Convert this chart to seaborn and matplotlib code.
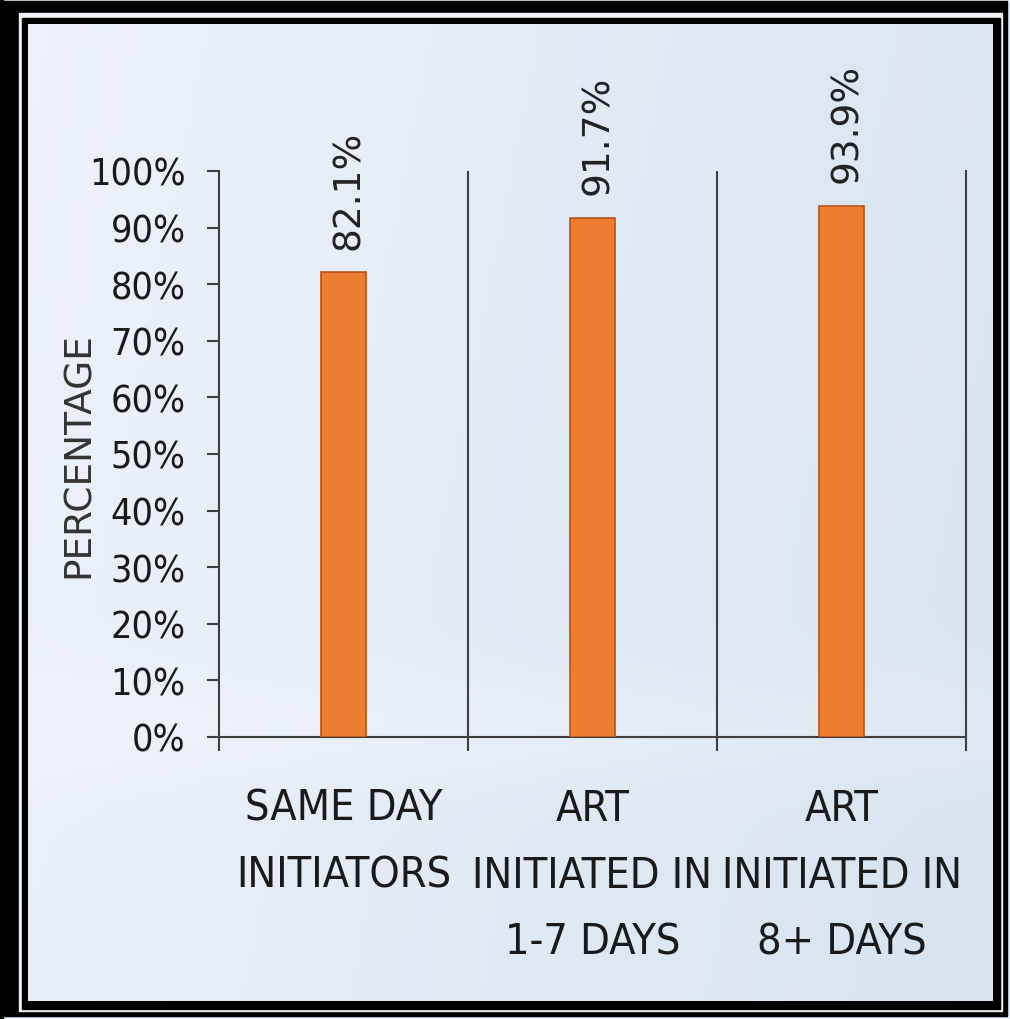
import numpy as np
import matplotlib
matplotlib.use("Agg")
import matplotlib.pyplot as plt
from matplotlib import font_manager as fm
from matplotlib.patches import Rectangle
from matplotlib.ticker import FuncFormatter
import seaborn as sns

# data
categories = ["SAME DAY\nINITIATORS", "ART\nINITIATED IN\n1-7 DAYS", "ART\nINITIATED IN\n8+ DAYS"]
values = [82.1, 91.7, 93.9]
value_labels = ["82.1%", "91.7%", "93.9%"]
yticks = [0, 10, 20, 30, 40, 50, 60, 70, 80, 90, 100]


def pick_narrow_font():
    # look for any installed narrow / condensed regular face
    best = None
    for f in fm.fontManager.ttflist:
        name = f.name.lower()
        is_narrow = ("narrow" in name or "condensed" in name
                     or f.stretch in ("condensed", "semi-condensed", 400, 500))
        if not is_narrow or f.style != "normal" or f.weight not in (400, "normal", "regular"):
            continue
        score = 0 if "liberation" in name else (1 if "noto sans" in name else 2)
        if best is None or score < best[0]:
            best = (score, f.fname)
    if best:
        return fm.FontProperties(fname=best[1])
    return fm.FontProperties(family="Lato")


narrow = pick_narrow_font()
axis_col = "#3f3f3f"
bar_col = "#ed7d31"

W, H = 1010, 1020
fig = plt.figure(figsize=(W / 100, H / 100), dpi=100)

# slide background with double black frame (pixel coordinates)
bg = fig.add_axes([0, 0, 1, 1])
bg.set_xlim(0, W)
bg.set_ylim(H, 0)
bg.axis("off")
bg.add_patch(Rectangle((0, 0), W, H, color="#e4ebf3"))
bg.add_patch(Rectangle((0, 0), 3, H, color="black"))
bg.add_patch(Rectangle((4, 2), 1003, 1015, color="black"))
bg.add_patch(Rectangle((19, 14), 983, 998, color="#eef2f8"))
bg.add_patch(Rectangle((22, 19), 978, 991, color="black"))
gx = np.linspace(0, 1, 200)
gy = np.linspace(0, 1, 200)
GX, GY = np.meshgrid(gx, gy)
c0 = np.array([0.93, 0.95, 0.975])
c1 = np.array([0.83, 0.885, 0.935])
t = np.clip(0.75 * GX + 0.15 * GY - 0.25 * np.exp(-((GY - 0.72) / 0.06) ** 2), 0, 1)
grad = c0 + (c1 - c0) * t[..., None]
bg.imshow(grad, extent=(28, 993, 1002, 25), aspect="auto", zorder=2)

# chart area
ax = fig.add_axes([219 / W, 1 - 738 / H, (966 - 219) / W, (738 - 172) / H])
ax.set_facecolor("none")
sns.barplot(x=categories, y=values, color=bar_col, width=0.18, ax=ax,
            saturation=1, edgecolor="#b5541b", linewidth=1.2, zorder=3)

ax.set_xlim(-0.5, 2.5)
ax.set_ylim(0, 100)
ax.set_yticks(yticks)
ax.yaxis.set_major_formatter(FuncFormatter(lambda v, p: f"{v:.0f}%"))
for lab in ax.get_yticklabels():
    lab.set_fontproperties(narrow)
    lab.set_fontsize(27)
    lab.set_color("#1a1a1a")
ax.tick_params(axis="y", length=9, width=1.5, color=axis_col, pad=15)

ax.set_xticks([0, 1, 2])
ax.set_xticklabels(categories, fontproperties=narrow, color="#1a1a1a",
                   linespacing=1.75)
for lab in ax.get_xticklabels():
    lab.set_fontsize(31)
ax.tick_params(axis="x", which="major", length=0, pad=36)
ax.set_xticks([-0.5, 0.5, 1.5, 2.5], minor=True)
ax.tick_params(axis="x", which="minor", length=10, width=1.5, color=axis_col)

for s in ["left", "bottom", "right"]:
    ax.spines[s].set_color(axis_col)
    ax.spines[s].set_linewidth(1.5)
ax.spines["top"].set_visible(False)
for xv in [0.5, 1.5]:
    ax.axvline(xv, color=axis_col, lw=1.5, zorder=2)

ax.set_xlabel("")
ax.set_ylabel("PERCENTAGE", fontsize=27, color="#333333", family="DejaVu Sans")
ax.yaxis.set_label_coords(-0.163, 0.5)

for i, (v, lab) in enumerate(zip(values, value_labels)):
    ax.annotate(lab, (i, v), xytext=(4, 17), textcoords="offset points",
                rotation=90, ha="center", va="bottom", fontsize=27,
                color="#222222", family="DejaVu Sans")

fig.savefig("out.png", dpi=100)
